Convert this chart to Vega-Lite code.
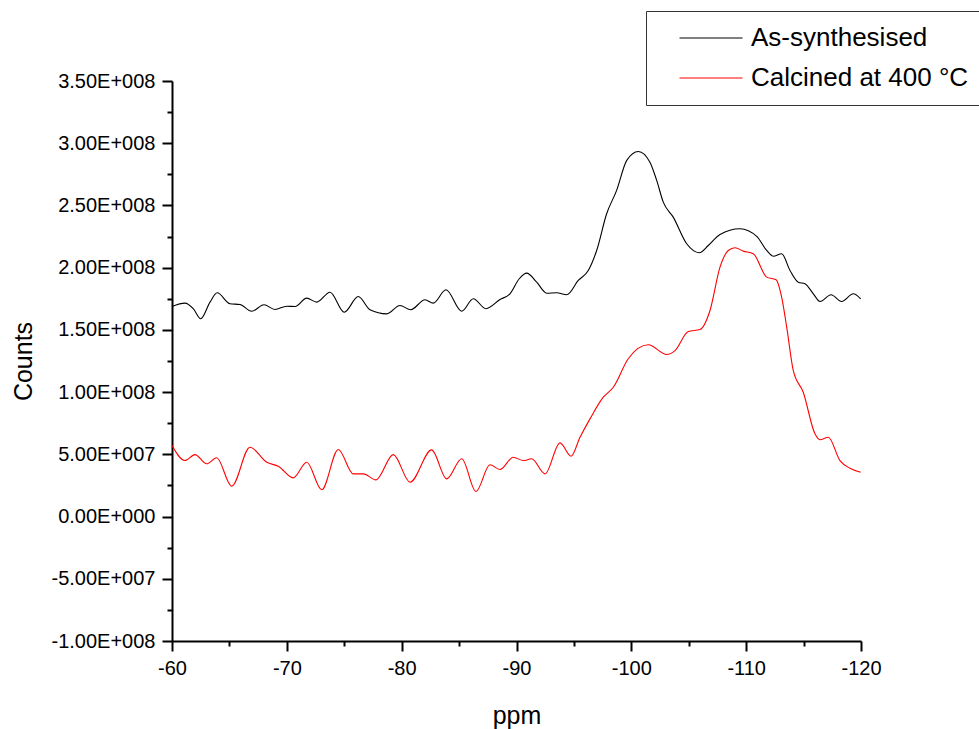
{
  "$schema": "https://vega.github.io/schema/vega-lite/v6.json",
  "autosize": {"type": "none"},
  "width": 689,
  "height": 560,
  "padding": {"left": 172, "top": 81, "right": 118, "bottom": 88},
  "background": "white",
  "config": {
    "view": {"stroke": null},
    "font": "Liberation Sans",
    "axis": {
      "grid": false,
      "domainColor": "black",
      "domainWidth": 2,
      "tickColor": "black",
      "tickWidth": 2,
      "labelFont": "Liberation Sans",
      "labelFontSize": 20,
      "labelColor": "black",
      "titleFont": "Liberation Sans",
      "titleFontSize": 25,
      "titleFontWeight": "normal",
      "titleColor": "black",
      "labelOverlap": false,
      "labelFlush": false,
      "labelBound": false
    }
  },
  "data": {
    "values": [
      {"ppm": -60.00, "counts": 168800000, "sample": "As-synthesised"},
      {"ppm": -61.13, "counts": 171500000, "sample": "As-synthesised"},
      {"ppm": -61.85, "counts": 167000000, "sample": "As-synthesised"},
      {"ppm": -62.50, "counts": 158900000, "sample": "As-synthesised"},
      {"ppm": -63.31, "counts": 172300000, "sample": "As-synthesised"},
      {"ppm": -63.94, "counts": 179800000, "sample": "As-synthesised"},
      {"ppm": -65.05, "counts": 171000000, "sample": "As-synthesised"},
      {"ppm": -65.92, "counts": 170400000, "sample": "As-synthesised"},
      {"ppm": -66.94, "counts": 165000000, "sample": "As-synthesised"},
      {"ppm": -68.01, "counts": 170200000, "sample": "As-synthesised"},
      {"ppm": -68.97, "counts": 166400000, "sample": "As-synthesised"},
      {"ppm": -69.99, "counts": 169000000, "sample": "As-synthesised"},
      {"ppm": -70.71, "counts": 168800000, "sample": "As-synthesised"},
      {"ppm": -71.73, "counts": 175500000, "sample": "As-synthesised"},
      {"ppm": -72.60, "counts": 172300000, "sample": "As-synthesised"},
      {"ppm": -73.76, "counts": 180300000, "sample": "As-synthesised"},
      {"ppm": -75.00, "counts": 164200000, "sample": "As-synthesised"},
      {"ppm": -76.22, "counts": 176800000, "sample": "As-synthesised"},
      {"ppm": -77.24, "counts": 166200000, "sample": "As-synthesised"},
      {"ppm": -78.70, "counts": 162900000, "sample": "As-synthesised"},
      {"ppm": -79.85, "counts": 169600000, "sample": "As-synthesised"},
      {"ppm": -80.79, "counts": 166200000, "sample": "As-synthesised"},
      {"ppm": -82.03, "counts": 174200000, "sample": "As-synthesised"},
      {"ppm": -82.75, "counts": 171500000, "sample": "As-synthesised"},
      {"ppm": -83.86, "counts": 182200000, "sample": "As-synthesised"},
      {"ppm": -85.23, "counts": 165000000, "sample": "As-synthesised"},
      {"ppm": -86.24, "counts": 175000000, "sample": "As-synthesised"},
      {"ppm": -87.34, "counts": 167000000, "sample": "As-synthesised"},
      {"ppm": -88.56, "counts": 174400000, "sample": "As-synthesised"},
      {"ppm": -89.43, "counts": 179000000, "sample": "As-synthesised"},
      {"ppm": -90.24, "counts": 191100000, "sample": "As-synthesised"},
      {"ppm": -90.89, "counts": 195600000, "sample": "As-synthesised"},
      {"ppm": -91.76, "counts": 188300000, "sample": "As-synthesised"},
      {"ppm": -92.63, "counts": 179500000, "sample": "As-synthesised"},
      {"ppm": -93.50, "counts": 179800000, "sample": "As-synthesised"},
      {"ppm": -94.37, "counts": 178200000, "sample": "As-synthesised"},
      {"ppm": -95.38, "counts": 189700000, "sample": "As-synthesised"},
      {"ppm": -96.25, "counts": 197700000, "sample": "As-synthesised"},
      {"ppm": -96.98, "counts": 213800000, "sample": "As-synthesised"},
      {"ppm": -97.85, "counts": 243300000, "sample": "As-synthesised"},
      {"ppm": -98.72, "counts": 262100000, "sample": "As-synthesised"},
      {"ppm": -99.60, "counts": 286200000, "sample": "As-synthesised"},
      {"ppm": -100.61, "counts": 293400000, "sample": "As-synthesised"},
      {"ppm": -101.62, "counts": 284800000, "sample": "As-synthesised"},
      {"ppm": -102.21, "counts": 270100000, "sample": "As-synthesised"},
      {"ppm": -102.78, "counts": 252700000, "sample": "As-synthesised"},
      {"ppm": -103.65, "counts": 240600000, "sample": "As-synthesised"},
      {"ppm": -104.82, "counts": 219200000, "sample": "As-synthesised"},
      {"ppm": -105.92, "counts": 212000000, "sample": "As-synthesised"},
      {"ppm": -106.70, "counts": 217800000, "sample": "As-synthesised"},
      {"ppm": -107.72, "counts": 226700000, "sample": "As-synthesised"},
      {"ppm": -109.46, "counts": 231300000, "sample": "As-synthesised"},
      {"ppm": -110.92, "counts": 225100000, "sample": "As-synthesised"},
      {"ppm": -111.79, "counts": 213800000, "sample": "As-synthesised"},
      {"ppm": -112.36, "counts": 209200000, "sample": "As-synthesised"},
      {"ppm": -113.09, "counts": 211200000, "sample": "As-synthesised"},
      {"ppm": -113.82, "counts": 197700000, "sample": "As-synthesised"},
      {"ppm": -114.54, "counts": 188300000, "sample": "As-synthesised"},
      {"ppm": -115.12, "counts": 187100000, "sample": "As-synthesised"},
      {"ppm": -115.85, "counts": 179000000, "sample": "As-synthesised"},
      {"ppm": -116.43, "counts": 172800000, "sample": "As-synthesised"},
      {"ppm": -117.39, "counts": 178200000, "sample": "As-synthesised"},
      {"ppm": -118.32, "counts": 172800000, "sample": "As-synthesised"},
      {"ppm": -119.33, "counts": 179000000, "sample": "As-synthesised"},
      {"ppm": -119.97, "counts": 175000000, "sample": "As-synthesised"},

      {"ppm": -60.00, "counts": 57100000, "sample": "Calcined at 400 °C"},
      {"ppm": -61.13, "counts": 45000000, "sample": "Calcined at 400 °C"},
      {"ppm": -62.00, "counts": 49800000, "sample": "Calcined at 400 °C"},
      {"ppm": -63.02, "counts": 42400000, "sample": "Calcined at 400 °C"},
      {"ppm": -63.89, "counts": 47200000, "sample": "Calcined at 400 °C"},
      {"ppm": -65.20, "counts": 24400000, "sample": "Calcined at 400 °C"},
      {"ppm": -66.79, "counts": 55700000, "sample": "Calcined at 400 °C"},
      {"ppm": -68.25, "counts": 43600000, "sample": "Calcined at 400 °C"},
      {"ppm": -69.26, "counts": 40400000, "sample": "Calcined at 400 °C"},
      {"ppm": -70.56, "counts": 31100000, "sample": "Calcined at 400 °C"},
      {"ppm": -71.73, "counts": 43600000, "sample": "Calcined at 400 °C"},
      {"ppm": -73.04, "counts": 21500000, "sample": "Calcined at 400 °C"},
      {"ppm": -74.48, "counts": 53900000, "sample": "Calcined at 400 °C"},
      {"ppm": -75.79, "counts": 34300000, "sample": "Calcined at 400 °C"},
      {"ppm": -76.66, "counts": 34300000, "sample": "Calcined at 400 °C"},
      {"ppm": -77.76, "counts": 29500000, "sample": "Calcined at 400 °C"},
      {"ppm": -79.27, "counts": 49800000, "sample": "Calcined at 400 °C"},
      {"ppm": -80.73, "counts": 27600000, "sample": "Calcined at 400 °C"},
      {"ppm": -82.61, "counts": 53600000, "sample": "Calcined at 400 °C"},
      {"ppm": -83.92, "counts": 30300000, "sample": "Calcined at 400 °C"},
      {"ppm": -85.23, "counts": 46400000, "sample": "Calcined at 400 °C"},
      {"ppm": -86.47, "counts": 20100000, "sample": "Calcined at 400 °C"},
      {"ppm": -87.69, "counts": 41600000, "sample": "Calcined at 400 °C"},
      {"ppm": -88.56, "counts": 37800000, "sample": "Calcined at 400 °C"},
      {"ppm": -89.72, "counts": 47700000, "sample": "Calcined at 400 °C"},
      {"ppm": -90.59, "counts": 45000000, "sample": "Calcined at 400 °C"},
      {"ppm": -91.32, "counts": 46400000, "sample": "Calcined at 400 °C"},
      {"ppm": -92.48, "counts": 34300000, "sample": "Calcined at 400 °C"},
      {"ppm": -93.79, "counts": 59200000, "sample": "Calcined at 400 °C"},
      {"ppm": -94.75, "counts": 48500000, "sample": "Calcined at 400 °C"},
      {"ppm": -95.53, "counts": 63700000, "sample": "Calcined at 400 °C"},
      {"ppm": -96.40, "counts": 78500000, "sample": "Calcined at 400 °C"},
      {"ppm": -97.56, "counts": 95900000, "sample": "Calcined at 400 °C"},
      {"ppm": -98.43, "counts": 103900000, "sample": "Calcined at 400 °C"},
      {"ppm": -99.73, "counts": 126800000, "sample": "Calcined at 400 °C"},
      {"ppm": -101.48, "counts": 138000000, "sample": "Calcined at 400 °C"},
      {"ppm": -103.08, "counts": 130200000, "sample": "Calcined at 400 °C"},
      {"ppm": -103.80, "counts": 133400000, "sample": "Calcined at 400 °C"},
      {"ppm": -104.96, "counts": 148700000, "sample": "Calcined at 400 °C"},
      {"ppm": -105.98, "counts": 150300000, "sample": "Calcined at 400 °C"},
      {"ppm": -106.85, "counts": 165600000, "sample": "Calcined at 400 °C"},
      {"ppm": -107.72, "counts": 200400000, "sample": "Calcined at 400 °C"},
      {"ppm": -108.44, "counts": 213800000, "sample": "Calcined at 400 °C"},
      {"ppm": -109.03, "counts": 216000000, "sample": "Calcined at 400 °C"},
      {"ppm": -109.75, "counts": 213300000, "sample": "Calcined at 400 °C"},
      {"ppm": -110.62, "counts": 211200000, "sample": "Calcined at 400 °C"},
      {"ppm": -111.79, "counts": 192400000, "sample": "Calcined at 400 °C"},
      {"ppm": -112.60, "counts": 190300000, "sample": "Calcined at 400 °C"},
      {"ppm": -113.09, "counts": 176300000, "sample": "Calcined at 400 °C"},
      {"ppm": -113.53, "counts": 152200000, "sample": "Calcined at 400 °C"},
      {"ppm": -114.10, "counts": 117400000, "sample": "Calcined at 400 °C"},
      {"ppm": -114.97, "counts": 99900000, "sample": "Calcined at 400 °C"},
      {"ppm": -115.99, "counts": 66500000, "sample": "Calcined at 400 °C"},
      {"ppm": -116.43, "counts": 61700000, "sample": "Calcined at 400 °C"},
      {"ppm": -117.15, "counts": 63700000, "sample": "Calcined at 400 °C"},
      {"ppm": -118.17, "counts": 45000000, "sample": "Calcined at 400 °C"},
      {"ppm": -119.04, "counts": 38800000, "sample": "Calcined at 400 °C"},
      {"ppm": -119.97, "counts": 35600000, "sample": "Calcined at 400 °C"}
    ]
  },
  "mark": {"type": "line", "interpolate": "monotone", "strokeWidth": 1.1},
  "encoding": {
    "x": {
      "field": "ppm",
      "type": "quantitative",
      "scale": {"domain": [-120, -60], "reverse": true, "nice": false, "zero": false},
      "axis": {
        "title": "ppm",
        "values": [-60, -65, -70, -75, -80, -85, -90, -95, -100, -105, -110, -115, -120],
        "labelExpr": "datum.value % 10 != 0 ? '' : '' + datum.value",
        "tickSize": {"condition": {"test": "datum.value % 10 == 0", "value": 10}, "value": 5},
        "labelPadding": 7,
        "titlePadding": 25
      }
    },
    "y": {
      "field": "counts",
      "type": "quantitative",
      "scale": {"domain": [-100000000, 350000000], "nice": false, "zero": false},
      "axis": {
        "title": "Counts",
        "values": [-100000000, -75000000, -50000000, -25000000, 0, 25000000, 50000000, 75000000, 100000000, 125000000, 150000000, 175000000, 200000000, 225000000, 250000000, 275000000, 300000000, 325000000, 350000000],
        "labelExpr": "datum.value % 50000000 != 0 ? '' : (datum.value == 0 ? '0.00E+000' : (datum.value < 0 ? '-' : '') + format(abs(datum.value) / pow(10, floor(log(abs(datum.value)) / LN10 + 1e-9)), '.2f') + 'E+00' + floor(log(abs(datum.value)) / LN10 + 1e-9))",
        "tickSize": {"condition": {"test": "datum.value % 50000000 == 0", "value": 10}, "value": 5},
        "labelPadding": 7,
        "titlePadding": 15
      }
    },
    "color": {
      "field": "sample",
      "type": "nominal",
      "scale": {"domain": ["As-synthesised", "Calcined at 400 °C"], "range": ["#000000", "#ff0000"]},
      "legend": {
        "title": null,
        "orient": "none",
        "legendX": 474,
        "legendY": -70,
        "symbolType": "M-3,0H3",
        "symbolSize": 441,
        "symbolStrokeWidth": 1,
        "symbolOffset": 38,
        "labelFont": "Liberation Sans",
        "labelFontSize": 26,
        "labelColor": "black",
        "labelOffset": 27,
        "labelLimit": 400,
        "strokeColor": "#333333",
        "padding": 14,
        "rowPadding": 14,
        "fillColor": "white"
      }
    }
  }
}
